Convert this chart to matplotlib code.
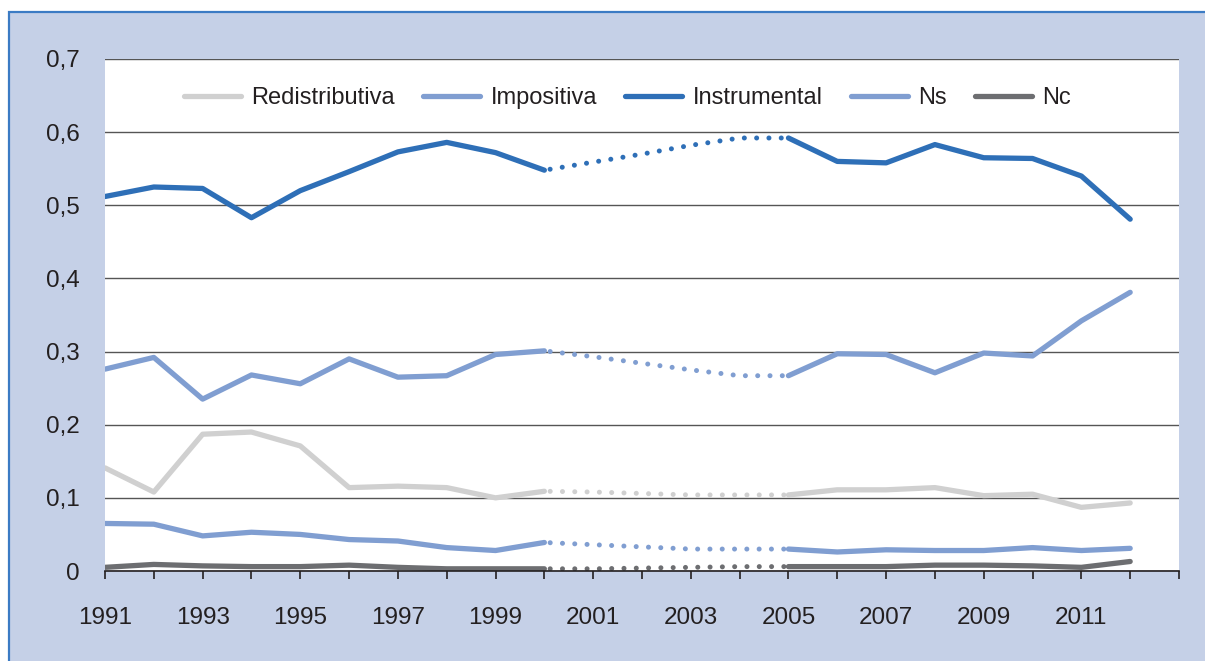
import matplotlib
matplotlib.use("Agg")
import matplotlib.pyplot as plt
from matplotlib.patches import Rectangle

years = list(range(1991, 2013))

redistributiva = [0.141, 0.108, 0.187, 0.190, 0.171, 0.114, 0.116, 0.114, 0.100, 0.109,
                  0.108, 0.106, 0.104, 0.104, 0.104,
                  0.111, 0.111, 0.114, 0.103, 0.105, 0.087, 0.093]
impositiva = [0.276, 0.292, 0.235, 0.268, 0.256, 0.290, 0.265, 0.267, 0.296, 0.301,
              0.293, 0.284, 0.275, 0.267, 0.267,
              0.297, 0.296, 0.271, 0.298, 0.294, 0.342, 0.381]
instrumental = [0.512, 0.525, 0.523, 0.483, 0.520, 0.546, 0.573, 0.586, 0.572, 0.548,
                0.559, 0.570, 0.582, 0.592, 0.592,
                0.560, 0.558, 0.583, 0.565, 0.564, 0.540, 0.481]
ns = [0.065, 0.064, 0.048, 0.053, 0.050, 0.043, 0.041, 0.032, 0.028, 0.039,
      0.036, 0.033, 0.030, 0.030, 0.030,
      0.026, 0.029, 0.028, 0.028, 0.032, 0.028, 0.031]
nc = [0.005, 0.009, 0.007, 0.006, 0.006, 0.008, 0.005, 0.003, 0.003, 0.003,
      0.003, 0.004, 0.005, 0.006, 0.006,
      0.006, 0.006, 0.008, 0.008, 0.007, 0.005, 0.013]

names = ["Redistributiva", "Impositiva", "Instrumental", "Ns", "Nc"]
colors = ["#d0d0d0", "#809ed1", "#2e6fb7", "#809ed1", "#6d6e71"]
series = [redistributiva, impositiva, instrumental, ns, nc]

# gap years (2000 -> 2005) are drawn dotted
i0, i1 = years.index(2000), years.index(2005)

plt.rcParams["font.family"] = ["Liberation Sans", "DejaVu Sans"]
plt.rcParams["text.color"] = "#231f20"

fig = plt.figure(figsize=(12.05, 6.61), dpi=100)
fig.patch.set_facecolor("white")
W, H = 1205, 661
fig.patches.append(Rectangle((9 / W, -0.01), 1.0, (H - 12) / H + 0.01,
                             transform=fig.transFigure, facecolor="#c5d0e7",
                             edgecolor="#3b7bc4", lw=1.6, zorder=-10))

ax = fig.add_axes([105 / W, (H - 571) / H, 1074 / W, 512 / H])
ax.set_facecolor("white")

for name, col, vals in zip(names, colors, series):
    ax.plot(years[:i0 + 1], vals[:i0 + 1], color=col, lw=3.8, label=name,
            solid_capstyle="round", solid_joinstyle="round")
    ax.plot(years[i0:i1 + 1], vals[i0:i1 + 1], color=col, lw=3.6,
            linestyle=(1.3, (0.01, 2.45)), dash_capstyle="round")
    ax.plot(years[i1:], vals[i1:], color=col, lw=3.8,
            solid_capstyle="round", solid_joinstyle="round")

ax.set_xlim(1991, 2013)
ax.set_ylim(0, 0.7)
ax.set_yticks([0, 0.1, 0.2, 0.3, 0.4, 0.5, 0.6, 0.7])
ax.set_yticklabels(["0", "0,1", "0,2", "0,3", "0,4", "0,5", "0,6", "0,7"])
ax.set_xticks(range(1991, 2014))
ax.set_xticklabels([str(y) if (y % 2 == 1 and y < 2013) else "" for y in range(1991, 2014)])
ax.yaxis.grid(True, color="#555555", lw=1.0)
ax.set_axisbelow(True)
for s in ["top", "left", "right"]:
    ax.spines[s].set_visible(False)
ax.spines["bottom"].set_color("#231f20")
ax.spines["bottom"].set_linewidth(1.2)
ax.tick_params(axis="y", length=0, pad=18, labelsize=17.5, labelcolor="#231f20")
ax.tick_params(axis="x", length=6, width=1.2, color="#231f20", pad=20,
               labelsize=17.5, labelcolor="#231f20")

ax.legend(loc="center left", bbox_to_anchor=(0.0736, 0.924), ncol=5,
          frameon=False, fontsize=17, borderpad=0, borderaxespad=0,
          handlelength=2.4, handletextpad=0.45, columnspacing=1.2)

fig.savefig("out.png", dpi=100)
